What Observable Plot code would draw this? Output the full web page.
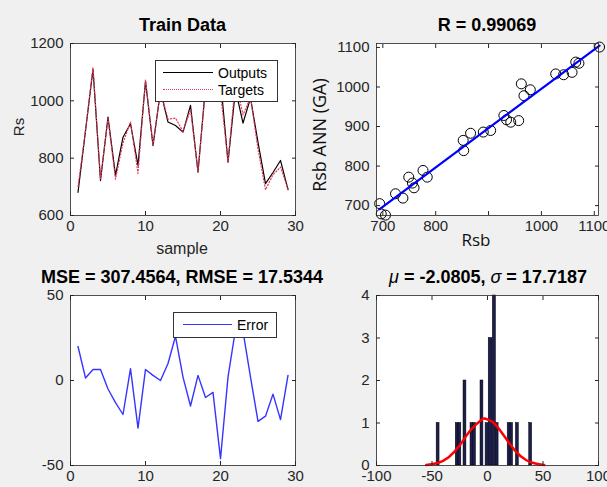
<!DOCTYPE html>
<html><head><meta charset="utf-8">
<script src="https://cdn.jsdelivr.net/npm/d3@7"></script>
<script src="https://cdn.jsdelivr.net/npm/@observablehq/plot@0.6"></script>
<style>
body{margin:0;background:#f0f0f0;}
#fig{position:relative;width:607px;height:487px;overflow:hidden;background:#f0f0f0;font-family:"Liberation Sans",Arial,sans-serif;color:#262626}
.pnl{position:absolute}
.t{position:absolute;transform:translate(-50%,-50%);line-height:1;white-space:nowrap}
.rot{transform:translate(-50%,-50%) rotate(-90deg)}
.title{font-weight:bold;font-size:18px;color:#000}
.leg{position:absolute;background:#fff;border:1px solid #333;box-sizing:border-box}
.lt{position:absolute;font-size:14px;line-height:1;transform:translateY(-50%);color:#000;white-space:nowrap}
.ll{position:absolute;height:0}
</style></head><body><div id="fig"></div>
<script>
// ---- data ----
const sample = [1,2,3,4,5,6,7,8,9,10,11,12,13,14,15,16,17,18,19,20,21,22,23,24,25,26,27,28,29];
const outputs = [681,895,1110,722,943,740,873,920,775,1068,844,1035,926,914,891,984,751,1050,1025,1075,786,1040,922,1010,855,711,750,792,690];
const targets = [701,897,1116,728,938,727,853,927,747,1074,847,1035,936,940,893,969,754,1040,1018,1029,788,1070,951,1012,831,690,742,769,693];
const errors = [20,1.5,6.5,6.5,-5,-13,-20,7,-28,6.5,3,0,10,26,2,-15,3,-10,-7,-46,2,30,29,2,-24,-21,-8,-23,3];

const rsbTarget = [694,697,705,724,738,749,756,759,776,784,852,853,866,890,904,929,934,942,957,962,967,979,1027,1042,1058,1065,1071,1110];
const rsbANN    = [705,679,676,730,719,772,757,745,789,772,865,839,883,886,890,928,917,911,915,1008,978,993,1033,1031,1037,1063,1060,1101];

const binStart = [-45.8,-28.6,-26.1,-21.6,-15.3,-12.8,-6.3,-1.7,1.1,4.8,7.6,18.2,20.6,25.6,37.6];
const binEnd   = [-43.2,-26.1,-23.6,-19.0,-12.8,-10.4,-3.7,1.1,4.6,7.6,10.0,20.6,23.0,28.2,40.2];
const binCount = [1,1,1,2,1,1,2,1,3,4,1,1,1,1,1];

const fitX = [-55.2,-45,-35,-25,-15,-5,-2,5,15,25,35,45,51.1];
const fitY = [0.012,0.058,0.194,0.474,0.84,1.084,1.1,1.017,0.694,0.344,0.124,0.033,0.012];

const ticksTLx = [0,10,20,30], ticksTLy = [600,800,1000,1200];
const ticksTRx = [700,800,900,1000,1100], labelsTRx = [700,800,1000,1100], ticksTRy = [700,800,900,1000,1100];
const ticksBLx = [0,10,20,30], ticksBLy = [-50,0,50];
const ticksBRx = [-100,-50,0,50,100], ticksBRy = [0,1,2,3,4];

// ---- helpers ----
const fig = document.getElementById("fig");
const fmt = d => String(d);
function axes(xt, yt, xl, yl) {
  return [
    Plot.frame({stroke:"#262626", strokeWidth:0.8}),
    Plot.axisX(xt, {anchor:"bottom", tickSize:-4, fill:"none", label:null, stroke:"#262626"}),
    Plot.axisX(xt, {anchor:"top", tickSize:-4, fill:"none", label:null, stroke:"#262626"}),
    Plot.axisY(yt, {anchor:"left", tickSize:-4, fill:"none", label:null, stroke:"#262626"}),
    Plot.axisY(yt, {anchor:"right", tickSize:-4, fill:"none", label:null, stroke:"#262626"}),
    Plot.axisX(xl, {anchor:"bottom", tickSize:0, tickPadding:5, label:null, tickFormat:fmt}),
    Plot.axisY(yl, {anchor:"left", tickSize:0, tickPadding:7, label:null, tickFormat:fmt})
  ];
}
const baseStyle = {background:"transparent", fontFamily:"'Liberation Sans', Arial, sans-serif", fontSize:"15px", color:"#262626", overflow:"visible"};
function place(svg, left, top) {
  const d = document.createElement("div");
  d.className = "pnl"; d.style.left = left + "px"; d.style.top = top + "px";
  d.appendChild(svg); fig.appendChild(d);
}
function text(html, x, y, cls, extra) {
  const d = document.createElement("div");
  d.className = "t " + (cls || "");
  d.style.left = x + "px"; d.style.top = y + "px";
  if (extra) Object.assign(d.style, extra);
  d.innerHTML = html; fig.appendChild(d);
}

// ---- top-left: Train Data ----
place(Plot.plot({
  width:303, height:245, marginLeft:70, marginRight:8, marginTop:43, marginBottom:30,
  style: baseStyle,
  x:{domain:[0,30]}, y:{domain:[600,1200]},
  marks:[
    Plot.frame({fill:"white"}),
    Plot.line(sample, {x:sample, y:outputs, stroke:"#000", strokeWidth:1.2}),
    Plot.line(sample, {x:sample, y:targets, stroke:"#e8385a", strokeWidth:1.2, strokeDasharray:"1.2,2"}),
    ...axes(ticksTLx, ticksTLy, ticksTLx, ticksTLy)
  ]
}), 0, 0);

// ---- top-right: regression ----
place(Plot.plot({
  width:307, height:245, marginLeft:76, marginRight:9, marginTop:43, marginBottom:30,
  style: baseStyle,
  x:{domain:[688,1108]}, y:{domain:[675,1110]},
  marks:[
    Plot.frame({fill:"white"}),
    Plot.dot(rsbTarget, {x:rsbTarget, y:rsbANN, r:5, stroke:"#000", strokeWidth:1, fill:"none"}),
    Plot.linearRegressionY(rsbTarget, {x:rsbTarget, y:rsbANN, stroke:"#0000ff", strokeWidth:2.2, ci:0}),
    ...axes(ticksTRx, ticksTRy, labelsTRx, ticksTRy)
  ]
}), 300, 0);

// ---- bottom-left: error ----
place(Plot.plot({
  width:303, height:245, marginLeft:70, marginRight:8, marginTop:45, marginBottom:30,
  style: baseStyle,
  x:{domain:[0,30]}, y:{domain:[-50,50]},
  marks:[
    Plot.frame({fill:"white"}),
    Plot.line(sample, {x:sample, y:errors, stroke:"#3535ff", strokeWidth:1.4}),
    ...axes(ticksBLx, ticksBLy, ticksBLx, ticksBLy)
  ]
}), 0, 250);

// ---- bottom-right: histogram ----
place(Plot.plot({
  width:307, height:245, marginLeft:76, marginRight:9, marginTop:45, marginBottom:30,
  style: baseStyle,
  x:{domain:[-100,100]}, y:{domain:[0,4]},
  marks:[
    Plot.frame({fill:"white"}),
    Plot.rect(binCount, {x1:binStart, x2:binEnd, y1:() => 0, y2:binCount, fill:"#1c1e4e", stroke:"#000", strokeWidth:0.5}),
    Plot.line(fitX, {x:fitX, y:fitY, stroke:"#ff0000", strokeWidth:2.5, curve:"natural"}),
    ...axes(ticksBRx, ticksBRy, ticksBRx, ticksBRy)
  ]
}), 300, 250);

// ---- titles & labels ----
text("Train Data", 182.5, 25, "title");
text("R = 0.99069", 487, 25, "title");
text("MSE = 307.4564, RMSE = 17.5344", 182, 277, "title");
text('<i style="font-weight:normal">μ</i> = -2.0805, <i style="font-weight:normal">σ</i> = 17.7187', 488, 277, "title");
text("Rs", 18, 127, "rot", {fontSize:"15px"});
text("sample", 182, 249, "", {fontSize:"16px"});
text("Rsb", 476, 239, "", {fontSize:"17px", fontFamily:"'Open Sans', sans-serif", color:"#111"});
text("Rsb ANN (GA)", 319, 135, "rot", {fontSize:"18px", fontFamily:"'Open Sans', sans-serif", color:"#111"});

// ---- legends ----
function legend(left, top, w, h, items) {
  const b = document.createElement("div");
  b.className = "leg";
  Object.assign(b.style, {left:left+"px", top:top+"px", width:w+"px", height:h+"px"});
  items.forEach(it => {
    const l = document.createElement("div");
    l.className = "ll";
    Object.assign(l.style, {left:it.lx+"px", top:(it.y - 0.75)+"px", width:it.lw+"px", borderTop:it.border});
    b.appendChild(l);
    const t = document.createElement("div");
    t.className = "lt";
    Object.assign(t.style, {left:it.tx+"px", top:it.y+"px"});
    t.textContent = it.label;
    b.appendChild(t);
  });
  fig.appendChild(b);
}
legend(155, 60, 123, 42, [
  {label:"Outputs", lx:7, lw:50, tx:62, y:12, border:"1.3px solid #000"},
  {label:"Targets", lx:7, lw:50, tx:62, y:29, border:"1.5px dotted #e8385a"}
]);
legend(173, 312, 104, 26, [
  {label:"Error", lx:9, lw:49, tx:63, y:12, border:"1.5px solid #3535ff"}
]);
</script></body></html>
